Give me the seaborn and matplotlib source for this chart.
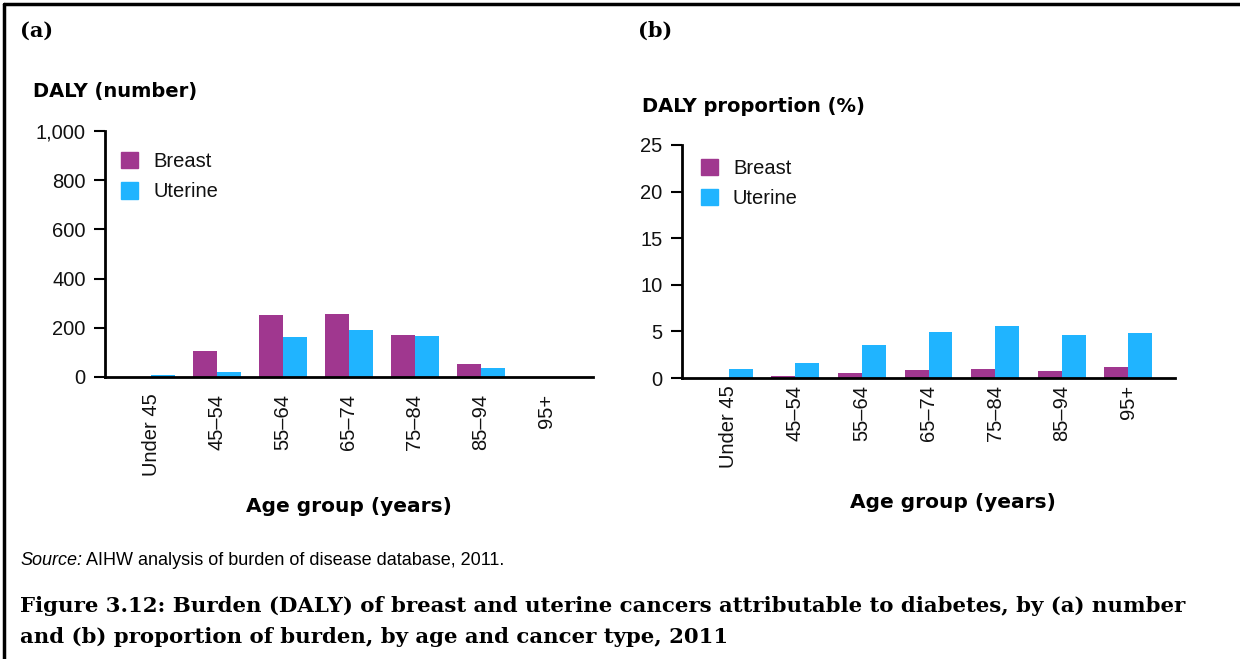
import numpy as np
import pandas as pd
import matplotlib
matplotlib.use("Agg")
import matplotlib.pyplot as plt
import seaborn as sns
from matplotlib.lines import Line2D

# --- data ---
age_groups = ["Under 45", "45\u201354", "55\u201364", "65\u201374", "75\u201384", "85\u201394", "95+"]
breast_number = [0, 104, 254, 258, 169, 51, 0]
uterine_number = [7, 19, 161, 193, 165, 35, 0]
breast_pct = [0.0, 0.25, 0.58, 0.9, 1.0, 0.8, 1.23]
uterine_pct = [1.0, 1.66, 3.5, 4.9, 5.6, 4.6, 4.8]

cancer_types = ["Breast", "Uterine"]
palette = {"Breast": "#A0378F", "Uterine": "#20B4FF"}


def long_frame(breast, uterine):
    return pd.DataFrame({
        "Age": age_groups * 2,
        "Cancer": ["Breast"] * len(age_groups) + ["Uterine"] * len(age_groups),
        "Value": list(breast) + list(uterine),
    })


sns.set_theme(style="white")
plt.rcParams['font.family'] = ['Liberation Sans', 'DejaVu Sans']
plt.rcParams['text.color'] = 'black'

W, H = 1240, 659
fig = plt.figure(figsize=(W / 100, H / 100), dpi=100)


def px_axes(x0, y_top, x1, y_bot):
    return fig.add_axes([x0 / W, 1 - y_bot / H, (x1 - x0) / W, (y_bot - y_top) / H])


def style_axes(ax, ymax, yticks, ylabels, xpad, leg_anchor):
    ax.set_xlim(-0.7, 6.7)
    ax.set_ylim(0, ymax)
    ax.set_yticks(yticks)
    ax.set_yticklabels(ylabels, fontsize=14.5, color="#111111")
    ax.tick_params(axis="y", direction="out", length=8, width=1.5, color="black", pad=6, left=True)
    ax.tick_params(axis="x", length=0, pad=xpad)
    for lbl in ax.get_xticklabels():
        lbl.set_rotation(90)
        lbl.set_fontsize(14.5)
        lbl.set_color("#111111")
        lbl.set_va("top")
    for side in ["top", "right"]:
        ax.spines[side].set_visible(False)
    for side in ["left", "bottom"]:
        ax.spines[side].set_color("black")
        ax.spines[side].set_linewidth(2)
    ax.set_xlabel("")
    ax.set_ylabel("")
    handles = [plt.Rectangle((0, 0), 1, 1, color=palette[c]) for c in cancer_types]
    leg = ax.legend(handles, cancer_types, frameon=False, loc="upper left",
                    bbox_to_anchor=leg_anchor, fontsize=14.5, handlelength=0.85,
                    handleheight=0.85, handletextpad=0.75, labelspacing=0.55,
                    borderpad=0, borderaxespad=0)
    for t in leg.get_texts():
        t.set_color("#111111")


bar_kw = dict(x="Age", y="Value", hue="Cancer", palette=palette, width=0.72, gap=0,
              saturation=1, errorbar=None, legend=False, linewidth=0, edgecolor="none")

# (a) number
ax1 = px_axes(105, 131, 593, 377)
sns.barplot(data=long_frame(breast_number, uterine_number), ax=ax1, **bar_kw)
style_axes(ax1, 1000, [0, 200, 400, 600, 800, 1000],
           ["0", "200", "400", "600", "800", "1,000"], 12, (0.033, 0.913))

# (b) proportion
ax2 = px_axes(682, 145, 1175, 378)
sns.barplot(data=long_frame(breast_pct, uterine_pct), ax=ax2, **bar_kw)
style_axes(ax2, 25, [0, 5, 10, 15, 20, 25], ["0", "5", "10", "15", "20", "25"],
           5, (0.038, 0.94))

# panel letters and axis titles
serif = ["DejaVu Serif"]
bold_sans = ["DejaVu Sans"]
fig.text(20 / W, 1 - 31 / H, "(a)", fontsize=15, fontweight="bold", family=serif, va="center")
fig.text(638 / W, 1 - 31 / H, "(b)", fontsize=15, fontweight="bold", family=serif, va="center")
fig.text(33 / W, 1 - 91 / H, "DALY (number)", fontsize=14, fontweight="bold",
         family=bold_sans, va="center")
fig.text(642 / W, 1 - 107 / H, "DALY proportion (%)", fontsize=14, fontweight="bold",
         family=bold_sans, va="center")
fig.text(349 / W, 1 - 507 / H, "Age group (years)", fontsize=14.5, fontweight="bold",
         family=bold_sans, ha="center", va="center")
fig.text(953 / W, 1 - 502 / H, "Age group (years)", fontsize=14.5, fontweight="bold",
         family=bold_sans, ha="center", va="center")

# source note
src = fig.text(20 / W, 1 - 565 / H, "Source:", fontsize=13, style="italic", va="baseline")
fig.canvas.draw()
bb = src.get_window_extent()
fig.text(bb.x1 / W + 4 / W, 1 - 565 / H, "AIHW analysis of burden of disease database, 2011.",
         fontsize=13, va="baseline")

# caption
fig.text(20 / W, 1 - 606 / H,
         "Figure 3.12: Burden (DALY) of breast and uterine cancers attributable to diabetes, by (a) number",
         fontsize=15.3, fontweight="bold", family=serif, va="center")
fig.text(20 / W, 1 - 637 / H,
         "and (b) proportion of burden, by age and cancer type, 2011",
         fontsize=15.3, fontweight="bold", family=serif, va="center")

# frame lines (top and left edge)
fig.add_artist(Line2D([4 / W, 1], [1 - 4 / H, 1 - 4 / H], color="black", lw=2.5, transform=fig.transFigure))
fig.add_artist(Line2D([4 / W, 4 / W], [0, 1 - 4 / H], color="black", lw=2.5, transform=fig.transFigure))

fig.savefig("out.png", dpi=100)
